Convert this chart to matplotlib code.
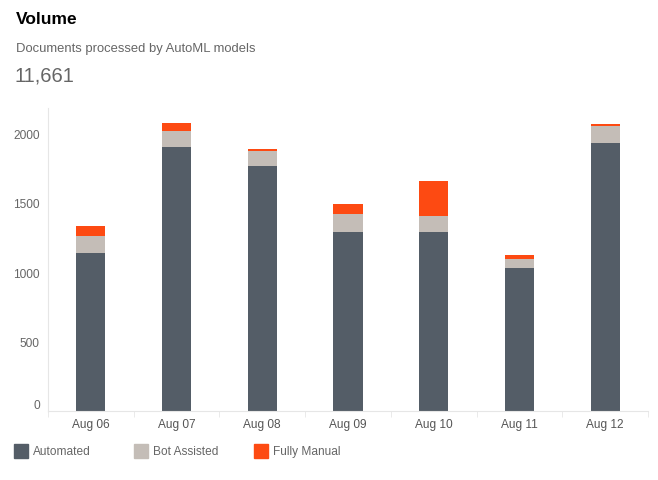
import matplotlib.pyplot as plt
import matplotlib.transforms as mtrans
import numpy as np

plt.rcParams['font.family'] = ['Liberation Sans', 'DejaVu Sans']

dates = ['Aug 06', 'Aug 07', 'Aug 08', 'Aug 09', 'Aug 10', 'Aug 11', 'Aug 12']
automated = [1142, 1900, 1763, 1287, 1293, 1034, 1935]
bot_assisted = [116, 115, 109, 130, 115, 65, 116]
fully_manual = [78, 64, 20, 78, 252, 28, 21]

c_auto = '#545d67'
c_bot = '#c4bdb7'
c_manual = '#fd4a12'

W, H = 658, 481
fig = plt.figure(figsize=(W / 100, H / 100), dpi=100)

# axes box in pixels: left 48, right 648, top 109, bottom 412
ax = fig.add_axes([48 / W, (H - 412) / H, (648 - 48) / W, (412 - 109) / H])

x = np.arange(len(dates))
auto = np.array(automated)
bot = np.array(bot_assisted)
man = np.array(fully_manual)
bw = 0.34
ax.bar(x, auto, bw, color=c_auto, label='Automated')
ax.bar(x, bot, bw, bottom=auto, color=c_bot, label='Bot Assisted')
ax.bar(x, man, bw, bottom=auto + bot, color=c_manual, label='Fully Manual')

ax.set_xlim(-0.5, len(dates) - 0.5)
ax.set_ylim(0, 2184)
ax.set_yticks([0, 500, 1000, 1500, 2000])
ax.set_xticks(x)
ax.set_xticklabels(dates)
ax.set_xticks(np.arange(len(dates) + 1) - 0.5, minor=True)

for s in ['top', 'right']:
    ax.spines[s].set_visible(False)
ax.spines['left'].set_color('#e6e6e6')
ax.spines['bottom'].set_color('#e6e6e6')
ax.tick_params(axis='y', length=0, pad=6, labelsize=8.6, labelcolor='#666666')
ax.tick_params(axis='x', which='major', length=0, pad=5, labelsize=8.6, labelcolor='#555555')
ax.tick_params(axis='x', which='minor', length=4, color='#e6e6e6')

# the zero label sits a little above the baseline in the original
zero_lbl = ax.get_yticklabels()[0]
zero_lbl.set_transform(zero_lbl.get_transform() +
                       mtrans.ScaledTranslation(0, 7 / 100, fig.dpi_scale_trans))

# header texts
fig.text(16 / W, 1 - 19 / H, 'Volume', fontsize=12.5, fontweight='bold', color='#000000', va='center')
fig.text(16 / W, 1 - 49 / H, 'Documents processed by AutoML models', fontsize=9.35, color='#666666', va='center')
fig.text(14 / W, 1 - 76 / H, '11,661', fontsize=14.5, color='#666666', va='center')

# legend drawn by hand in figure pixels
items = [('Automated', c_auto, 14), ('Bot Assisted', c_bot, 134), ('Fully Manual', c_manual, 254)]
for label, col, px in items:
    fig.patches.append(plt.Rectangle((px / W, 1 - 459 / H), 14 / W, 14 / H,
                                     transform=fig.transFigure, color=col))
    fig.text((px + 19) / W, 1 - 452 / H, label, fontsize=8.6, color='#666666', va='center')

fig.savefig('out.png', dpi=100)
